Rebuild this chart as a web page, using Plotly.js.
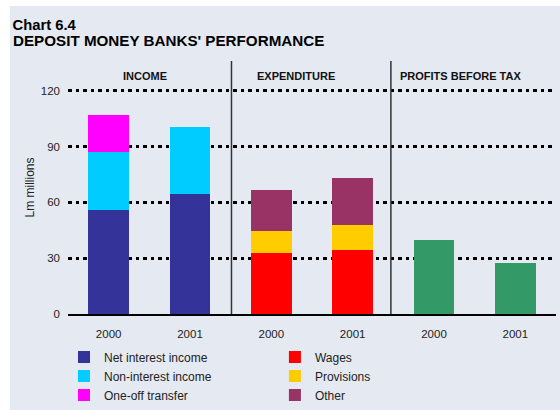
<!DOCTYPE html>
<html>
<head>
<meta charset="utf-8">
<script src="https://cdn.plot.ly/plotly-3.0.1.min.js"></script>
<style>
  html, body { margin: 0; padding: 0; background: #ffffff; }
  #chart { position: absolute; left: 10px; top: 6px; width: 550px; height: 404px; }
</style>
</head>
<body>
<div id="chart"></div>
<script>
// ---- data ----
const categories = ["Income 2000", "Income 2001", "Expenditure 2000", "Expenditure 2001", "Profits 2000", "Profits 2001"];
const tickLabels = ["2000", "2001", "2000", "2001", "2000", "2001"];
const sectionLabels = ["INCOME", "EXPENDITURE", "PROFITS BEFORE TAX"];

const incomeCats = ["Income 2000", "Income 2001"];
const netInterestIncome = [56, 64.5];
const nonInterestIncome = [31, 36];
const oneOffCats = ["Income 2000"];
const oneOffTransfer = [20];

const expenditureCats = ["Expenditure 2000", "Expenditure 2001"];
const wages = [33, 34.5];
const provisions = [11.5, 13.5];
const other = [22, 25];

const profitCats = ["Profits 2000", "Profits 2001"];
const profitsBeforeTax = [40, 27.5];

const yTicks = [0, 30, 60, 90, 120];

// ---- traces ----
const font = "Liberation Sans, Arial, sans-serif";
function bar(name, x, y, color, legend, show) {
  return { type: "bar", name: name, x: x, y: y, marker: { color: color, line: { width: 0 } },
           legend: legend, showlegend: show, hoverinfo: "x+y+name" };
}
const traces = [
  bar("Net interest income", incomeCats, netInterestIncome, "#333399", "legend", true),
  bar("Non-interest income", incomeCats, nonInterestIncome, "#00CCFF", "legend", true),
  bar("One-off transfer", oneOffCats, oneOffTransfer, "#FF00FF", "legend", true),
  bar("Wages", expenditureCats, wages, "#FF0000", "legend2", true),
  bar("Provisions", expenditureCats, provisions, "#FFCC00", "legend2", true),
  bar("Other", expenditureCats, other, "#993366", "legend2", true),
  bar("Profits before tax", profitCats, profitsBeforeTax, "#339966", "legend", false)
];

const bg = "#e5e9f1";
const legendCommon = {
  orientation: "v", traceorder: "normal", bgcolor: "rgba(0,0,0,0)",
  font: { family: font, size: 12, color: "#222" }, xanchor: "left", yanchor: "top",
  xref: "paper", yref: "container",
  itemclick: false, itemdoubleclick: false
};
const legendTop = 1 - 336.5 / 404;

const layout = {
  width: 550, height: 404,
  paper_bgcolor: bg, plot_bgcolor: bg,
  margin: { l: 58, r: 4, t: 55, b: 96 },
  barmode: "stack", bargap: 0.5,
  font: { family: font, size: 11.5, color: "#222" },
  title: {
    text: "<b>Chart 6.4</b>", x: 2.5 / 550, xref: "container", xanchor: "left",
    y: 1 - 19 / 404, yref: "container", yanchor: "middle",
    font: { family: font, size: 14.8, color: "#000" }
  },
  xaxis: {
    type: "category", categoryorder: "array", categoryarray: categories,
    tickvals: categories, ticktext: tickLabels,
    range: [-0.5, 5.5], showgrid: false, zeroline: false,
    showline: true, linecolor: "#000", linewidth: 2,
    ticks: "", ticklabelstandoff: 8,
    tickfont: { family: font, size: 11.5, color: "#222" }
  },
  yaxis: {
    range: [0, 136], tickvals: yTicks, ticktext: yTicks.map(String),
    showgrid: true, gridcolor: "#000", gridwidth: 3, griddash: "3.5px,4px",
    zeroline: false, showline: false, ticks: "", ticklabelstandoff: 7,
    tickfont: { family: font, size: 11.5, color: "#222" },
    title: { text: "Lm millions", standoff: 3, font: { family: font, size: 12, color: "#222" } }
  },
  legend: Object.assign({ x: -0.0082, y: legendTop }, legendCommon),
  legend2: Object.assign({ x: 0.424, y: legendTop }, legendCommon),
  shapes: [
    { type: "line", xref: "x", yref: "paper", x0: 1.51, x1: 1.51, y0: 0, y1: 1, line: { color: "#333", width: 1.5 } },
    { type: "line", xref: "x", yref: "paper", x0: 3.47, x1: 3.47, y0: 0, y1: 1, line: { color: "#333", width: 1.5 } }
  ],
  annotations: [
    { text: "<b>DEPOSIT MONEY BANKS' PERFORMANCE</b>", xref: "paper", yref: "paper",
      x: -0.116, xanchor: "left", y: (308 - 34) / 253, yanchor: "middle", showarrow: false,
      font: { family: font, size: 15.2, color: "#000" } },
    { text: "<b>" + sectionLabels[0] + "</b>", xref: "x", yref: "paper", x: 0.45, y: (308 - 70) / 253,
      yanchor: "middle", showarrow: false, font: { family: font, size: 11, color: "#111" } },
    { text: "<b>" + sectionLabels[1] + "</b>", xref: "x", yref: "paper", x: 2.3, y: (308 - 70) / 253,
      yanchor: "middle", showarrow: false, font: { family: font, size: 11, color: "#111" } },
    { text: "<b>" + sectionLabels[2] + "</b>", xref: "x", yref: "paper", x: 4.33, y: (308 - 70) / 253,
      yanchor: "middle", showarrow: false, font: { family: font, size: 11, color: "#111" } }
  ]
};

Plotly.newPlot("chart", traces, layout, { displayModeBar: false });
</script>
</body>
</html>
